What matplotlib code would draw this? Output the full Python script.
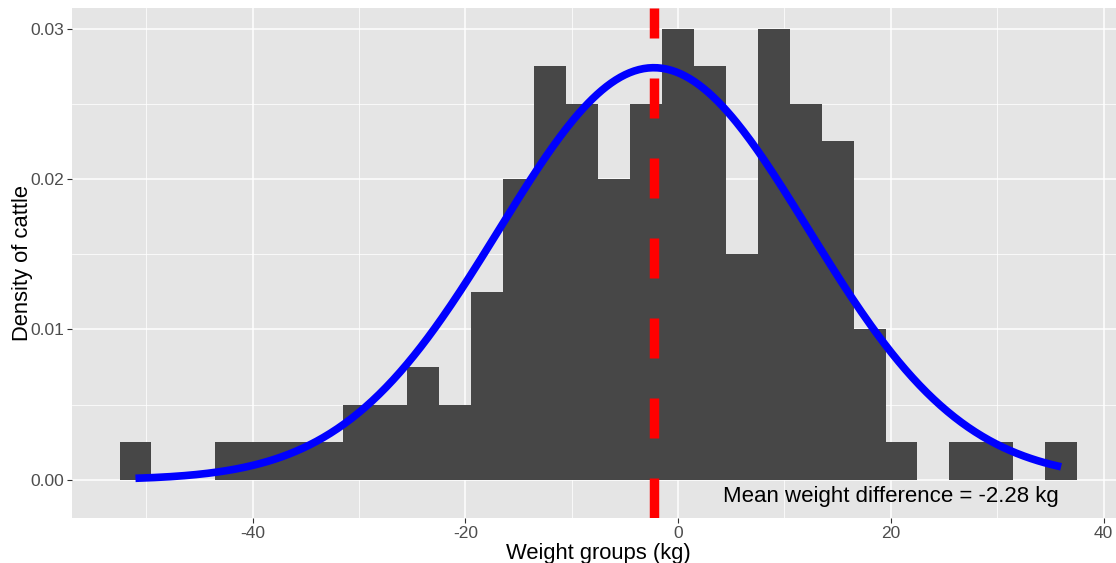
"""
Histogram of cattle weight differences with a fitted normal curve and the mean marked.
"""
import numpy as np
import matplotlib
matplotlib.use("Agg")
import matplotlib.pyplot as plt
from matplotlib.ticker import MultipleLocator, FormatStrFormatter

# histogram bins (kg): 30 bins of width 3 starting at -52.5
bin_start = -52.5
bin_width = 3.0
densities = [
    0.0025, 0.0, 0.0, 0.0025, 0.0025, 0.0025, 0.0025, 0.005, 0.005, 0.0075,
    0.005, 0.0125, 0.02, 0.0275, 0.025, 0.02, 0.025, 0.03, 0.0275, 0.015,
    0.03, 0.025, 0.0225, 0.01, 0.0025, 0.0, 0.0025, 0.0025, 0.0, 0.0025,
]

# fitted normal over the observed range
mean_diff = -2.28
sd_diff = 14.56
data_min, data_max = -51.0, 36.0

x_ticks = [-40, -20, 0, 20, 40]
y_ticks = [0.00, 0.01, 0.02, 0.03]

plt.rcParams["font.family"] = ["Liberation Sans", "DejaVu Sans"]
plt.rcParams["axes.unicode_minus"] = False

fig = plt.figure(figsize=(11.16, 5.63), dpi=100)
ax = fig.add_axes([0.0642, 0.0799, 0.9438, 0.9067])
ax.set_facecolor("#E5E5E5")

edges = bin_start + bin_width * np.arange(len(densities) + 1)
ax.stairs(densities, edges, fill=True, color="#474747", zorder=2)

xs = np.linspace(data_min, data_max, 400)
pdf = np.exp(-0.5 * ((xs - mean_diff) / sd_diff) ** 2) / (sd_diff * np.sqrt(2 * np.pi))
ax.plot(xs, pdf, color="#0000FF", lw=5.5, solid_capstyle="butt", zorder=3)

lw_mean = 6.8
ax.axvline(mean_diff, color="#FF0000", lw=lw_mean,
           dashes=(28.8 / lw_mean, 28.8 / lw_mean), zorder=4)

ax.text(20, -0.0011, f"Mean weight difference = {mean_diff:.2f} kg",
        ha="center", va="center", fontsize=16, color="black", zorder=5)

ax.set_xlim(-57, 42)
ax.set_ylim(-0.00254, 0.0314)

ax.xaxis.set_major_locator(MultipleLocator(20))
ax.xaxis.set_minor_locator(MultipleLocator(10))
ax.yaxis.set_major_locator(MultipleLocator(0.01))
ax.yaxis.set_minor_locator(MultipleLocator(0.005))
ax.yaxis.set_major_formatter(FormatStrFormatter("%.2f"))
ax.set_xticks(x_ticks)
ax.set_yticks(y_ticks)

ax.grid(which="major", color="white", lw=1.1, zorder=0)
ax.grid(which="minor", color="white", lw=0.55, zorder=0)
ax.set_axisbelow(True)
for s in ax.spines.values():
    s.set_visible(False)

ax.tick_params(which="major", length=3.5, width=0.8, color="#333333",
               labelcolor="#4D4D4D", labelsize=12.5, pad=2)
ax.tick_params(which="minor", length=0)

ax.set_xlabel("Weight groups (kg)", fontsize=15.8, color="black", labelpad=2)
ax.set_ylabel("Density of cattle", fontsize=15.8, color="black", labelpad=-2)

fig.savefig("out.png", dpi=100)
